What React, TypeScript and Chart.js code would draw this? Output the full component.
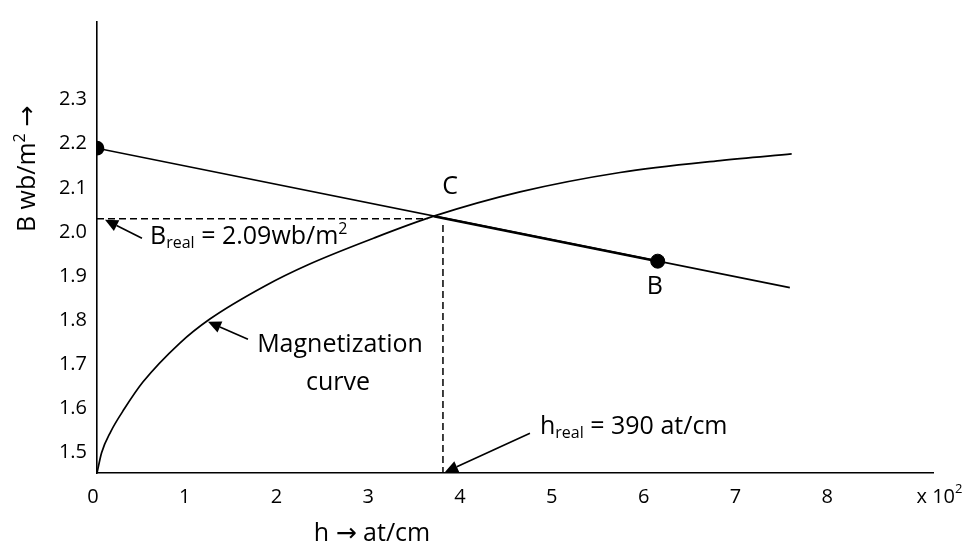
import React, { useEffect, useRef } from "react";
import { Chart, registerables } from "chart.js";

Chart.register(...registerables);

// ---- data (h in 10^2 at/cm, B in wb/m^2) ----
const X_TICKS = [0, 1, 2, 3, 4, 5, 6, 7, 8];
const Y_TICKS = [1.5, 1.6, 1.7, 1.8, 1.9, 2.0, 2.1, 2.2, 2.3];
const X_MIN = 0;
const X_MAX = 9.11;
const Y_MIN = 1.454;
const Y_MAX = 2.476;

const MAG_H = [0, 0.05, 0.15, 0.3, 0.5, 0.9, 1.23, 1.83, 2.3, 3.0, 3.67, 4.61, 5.7, 6.79, 7.57];
const MAG_B = [1.454, 1.5, 1.548, 1.6, 1.66, 1.748, 1.803, 1.878, 1.926, 1.985, 2.036, 2.091, 2.135, 2.162, 2.177];

const LOAD_H = [0, 7.55];
const LOAD_B = [2.19, 1.874];

const CB_H = [3.67, 6.11];
const CB_B = [2.036, 1.934];

const POINT_B_H = [6.11];
const POINT_B_B = [1.934];

const HDASH_H = [0, 3.6];
const HDASH_B = [2.03, 2.03];
const VDASH_H = [3.77, 3.77];
const VDASH_B = [2.016, 1.454];

const FONT = '"Open Sans", "DejaVu Sans", sans-serif';
const TEXT_SIZE = 25;
const SUB_SIZE = 16;
const TICK_SIZE = 20;

const pts = (xs: number[], ys: number[]) => xs.map((x, i) => ({ x, y: ys[i] }));

function drawRich(ctx: CanvasRenderingContext2D, parts: [string, number, number][], x: number, yBase: number, align: "left" | "center") {
  const widths = parts.map((p) => {
    ctx.font = `${p[1]}px ${FONT}`;
    return ctx.measureText(p[0]).width;
  });
  const total = widths.reduce((a, b) => a + b, 0);
  let cx = align === "center" ? x - total / 2 : x;
  ctx.textAlign = "left";
  ctx.textBaseline = "alphabetic";
  parts.forEach((p, i) => {
    ctx.font = `${p[1]}px ${FONT}`;
    ctx.fillText(p[0], cx, yBase + p[2]);
    cx += widths[i];
  });
}

function arrow(ctx: CanvasRenderingContext2D, x1: number, y1: number, x2: number, y2: number) {
  const ang = Math.atan2(y2 - y1, x2 - x1);
  const L = 13;
  const W = 6;
  const bx = x2 - L * Math.cos(ang);
  const by = y2 - L * Math.sin(ang);
  ctx.beginPath();
  ctx.moveTo(x1, y1);
  ctx.lineTo(bx, by);
  ctx.lineWidth = 1.6;
  ctx.strokeStyle = "#000";
  ctx.stroke();
  ctx.beginPath();
  ctx.moveTo(x2, y2);
  ctx.lineTo(bx + W * Math.sin(ang), by - W * Math.cos(ang));
  ctx.lineTo(bx - W * Math.sin(ang), by + W * Math.cos(ang));
  ctx.closePath();
  ctx.fillStyle = "#000";
  ctx.fill();
}

const annotationPlugin = {
  id: "annot",
  afterDraw(chart: any) {
    const ctx: CanvasRenderingContext2D = chart.ctx;
    const xs = chart.scales.x;
    const ys = chart.scales.y;
    const px = (h: number) => xs.getPixelForValue(h);
    const py = (b: number) => ys.getPixelForValue(b);
    ctx.save();
    ctx.fillStyle = "#000";

    // C and B labels
    drawRich(ctx, [["C", TEXT_SIZE, 0]], px(3.847), py(2.087), "center");
    drawRich(ctx, [["B", TEXT_SIZE, 0]], px(6.08), py(1.8606), "center");

    // B_real
    arrow(ctx, px(0.49), py(1.986), px(0.087), py(2.028));
    drawRich(ctx, [["B", TEXT_SIZE, 0], ["real", SUB_SIZE, 4], [" = 2.09wb/m", TEXT_SIZE, 0], ["2", SUB_SIZE, -10]], px(0.578), py(1.9727), "left");

    // Magnetization curve
    arrow(ctx, px(1.645), py(1.757), px(1.21), py(1.797));
    drawRich(ctx, [["Magnetization", TEXT_SIZE, 0]], px(2.648), py(1.729), "center");
    drawRich(ctx, [["curve", TEXT_SIZE, 0]], px(2.626), py(1.643), "center");

    // h_real
    arrow(ctx, px(4.718), py(1.544), px(3.792), py(1.456));
    drawRich(ctx, [["h", TEXT_SIZE, 0], ["real", SUB_SIZE, 4], [" = 390 at/cm", TEXT_SIZE, 0]], px(4.827), py(1.542), "left");

    // axis titles
    drawRich(ctx, [["h \u2192 at/cm", TEXT_SIZE, 0]], px(2.997), py(1.3), "center");
    drawRich(ctx, [["x 10", TICK_SIZE, 0], ["2", 13, -10]], px(8.93), py(1.387), "left");

    ctx.save();
    ctx.translate(px(-0.675), py(2.143));
    ctx.rotate(-Math.PI / 2);
    drawRich(ctx, [["B wb/m", TEXT_SIZE, 0], ["2", SUB_SIZE, -10], [" \u2192", TEXT_SIZE, 0]], 0, 0, "center");
    ctx.restore();

    ctx.restore();
  },
};

export default function App() {
  const ref = useRef<HTMLCanvasElement | null>(null);

  useEffect(() => {
    if (!ref.current) return;
    const black = "#000";
    const chart = new Chart(ref.current, {
      type: "line",
      data: {
        datasets: [
          {
            data: pts(MAG_H, MAG_B),
            borderColor: black,
            borderWidth: 1.7,
            pointRadius: 0,
            cubicInterpolationMode: "monotone",
            fill: false,
          },
          {
            data: pts(LOAD_H, LOAD_B),
            borderColor: black,
            borderWidth: 1.7,
            pointRadius: [6.5, 0],
            pointBackgroundColor: black,
            pointBorderColor: black,
            tension: 0,
            fill: false,
          },
          {
            data: pts(CB_H, CB_B),
            borderColor: black,
            borderWidth: 2.6,
            pointRadius: 0,
            tension: 0,
            fill: false,
          },
          {
            data: pts(POINT_B_H, POINT_B_B),
            showLine: false,
            pointRadius: 7,
            pointBackgroundColor: black,
            pointBorderColor: black,
          },
          {
            data: pts(HDASH_H, HDASH_B),
            borderColor: black,
            borderWidth: 1.5,
            borderDash: [7, 4],
            pointRadius: 0,
            fill: false,
          },
          {
            data: pts(VDASH_H, VDASH_B),
            borderColor: black,
            borderWidth: 1.5,
            borderDash: [7, 4],
            pointRadius: 0,
            fill: false,
          },
        ],
      },
      options: {
        animation: false,
        responsive: false,
        maintainAspectRatio: false,
        layout: { padding: { left: 0, top: 8, right: 33, bottom: 0 } },
        plugins: { legend: { display: false }, tooltip: { enabled: false } },
        scales: {
          x: {
            type: "linear",
            min: X_MIN,
            max: X_MAX,
            afterBuildTicks: (s: any) => {
              s.ticks = X_TICKS.map((v) => ({ value: v }));
            },
            afterFit: (s: any) => {
              s.height = 77;
            },
            grid: { display: true, drawOnChartArea: false, drawTicks: false },
            border: { display: true, color: black, width: 1.6 },
            ticks: {
              color: black,
              font: { family: FONT, size: TICK_SIZE },
              padding: 12,
              labelOffset: -4,
              maxRotation: 0,
              autoSkip: false,
              callback: (v: any) => String(v),
            },
          },
          y: {
            type: "linear",
            min: Y_MIN,
            max: Y_MAX,
            afterBuildTicks: (s: any) => {
              s.ticks = Y_TICKS.map((v) => ({ value: v }));
            },
            afterFit: (s: any) => {
              s.width = 97;
            },
            grid: { display: true, drawOnChartArea: false, drawTicks: false },
            border: { display: true, color: black, width: 1.6 },
            ticks: {
              color: black,
              font: { family: FONT, size: TICK_SIZE },
              padding: 10,
              autoSkip: false,
              callback: (v: any) => Number(v).toFixed(1),
            },
          },
        },
      } as any,
      plugins: [annotationPlugin],
    });
    return () => chart.destroy();
  }, []);

  return (
    <div style={{ position: "absolute", left: 0, top: 0, width: 966, height: 550, background: "#fff" }}>
      <canvas ref={ref} width={966} height={550} style={{ width: 966, height: 550, display: "block" }} />
    </div>
  );
}
